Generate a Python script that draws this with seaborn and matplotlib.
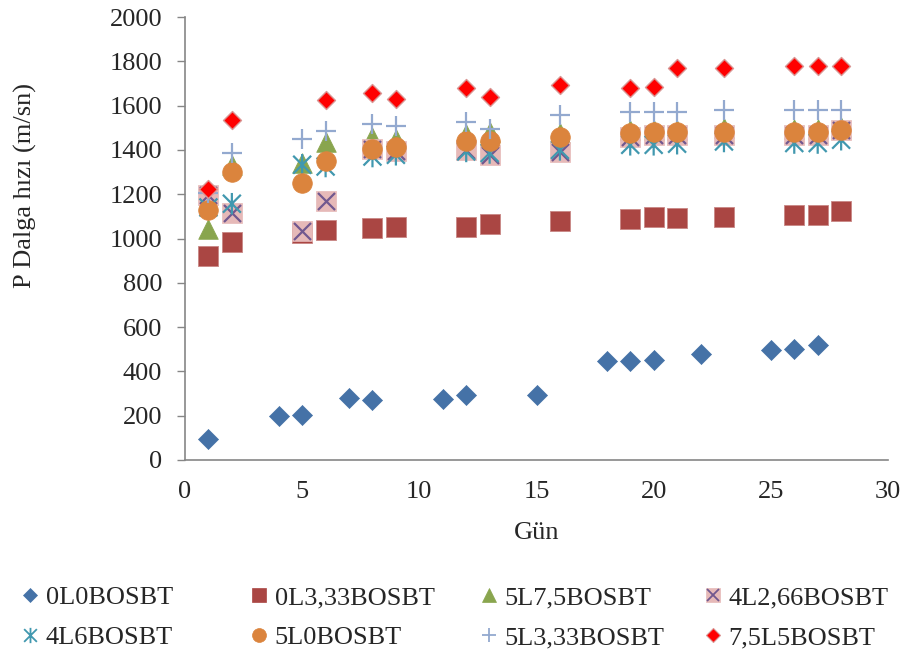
import numpy as np
import matplotlib
matplotlib.use("Agg")
import matplotlib.pyplot as plt
from matplotlib.path import Path
from matplotlib.lines import Line2D
import seaborn as sns

# veri (okunan değerler)
gun_a = [1, 4, 5, 7, 8, 11, 12, 15, 18, 19, 20, 22, 25, 26, 27]
v_0L0 = [95, 200, 205, 278, 270, 275, 292, 292, 447, 447, 452, 480, 498, 503, 518]

gun_b = [1, 2, 5, 6, 8, 9, 12, 13, 16, 19, 20, 21, 23, 26, 27, 28]
v_0L333 = [922, 984, 1025, 1038, 1049, 1054, 1054, 1065, 1081, 1087, 1099, 1092, 1099, 1104, 1107, 1122]
v_5L75 = [1043, 1330, 1340, 1434, 1460, 1450, 1470, 1480, 1475, 1490, 1492, 1492, 1497, 1495, 1495, 1505]
v_4L266 = [1197, 1117, 1035, 1171, 1404, 1393, 1400, 1378, 1390, 1460, 1468, 1468, 1468, 1468, 1468, 1488]
v_4L6 = [1140, 1157, 1333, 1325, 1370, 1378, 1393, 1386, 1400, 1423, 1423, 1428, 1438, 1431, 1431, 1446]
v_5L0 = [1129, 1298, 1250, 1351, 1404, 1415, 1438, 1442, 1460, 1476, 1479, 1479, 1483, 1480, 1480, 1491]
v_5L333 = [1205, 1386, 1449, 1486, 1518, 1509, 1528, 1495, 1559, 1569, 1569, 1569, 1578, 1578, 1578, 1578]

gun_c = [1, 2, 6, 8, 9, 12, 13, 16, 19, 20, 21, 23, 26, 27, 28]
v_75L5 = [1224, 1536, 1626, 1659, 1630, 1679, 1641, 1694, 1679, 1686, 1770, 1770, 1777, 1777, 1777]

etiketler = ["0L0BOSBT", "0L3,33BOSBT", "5L7,5BOSBT", "4L2,66BOSBT",
             "4L6BOSBT", "5L0BOSBT", "5L3,33BOSBT", "7,5L5BOSBT"]
y_ticks = [0, 200, 400, 600, 800, 1000, 1200, 1400, 1600, 1800, 2000]
x_ticks = [0, 5, 10, 15, 20, 25, 30]

# renkler
c_mavi = "#4572A7"
c_kirmizi = "#AA4643"
c_yesil = "#89A54E"
c_pembe = "#E6B9B8"
c_mor = "#71588F"
c_turkuaz = "#4198AF"
c_turuncu = "#DB843D"
c_acikmavi = "#93A9CF"
c_parlak = "#FF0000"

# Excel tarzı yıldız: X + dikey çizgi
yildiz = Path([(-1, -1), (1, 1), (-1, 1), (1, -1), (0, -1.2), (0, 1.2)],
              [Path.MOVETO, Path.LINETO, Path.MOVETO, Path.LINETO, Path.MOVETO, Path.LINETO])

sns.set_style("white")
plt.rcParams["font.family"] = ["Liberation Serif", "DejaVu Serif"]
FS = 19

fig = plt.figure(figsize=(9.09, 6.57), dpi=100)
ax = fig.add_axes([185 / 909, 1 - 460 / 657, 703 / 909, 443 / 657])

sns.scatterplot(x=gun_a, y=v_0L0, marker="D", s=104, color=c_mavi, edgecolor=c_mavi, linewidth=0.5, ax=ax, zorder=3)
sns.scatterplot(x=gun_b, y=v_0L333, marker="s", s=190, color=c_kirmizi, edgecolor="#C98785", linewidth=0.6, ax=ax, zorder=3)
sns.scatterplot(x=gun_b, y=v_5L75, marker="^", s=200, color=c_yesil, edgecolor=c_yesil, linewidth=0.5, ax=ax, zorder=3)
sns.scatterplot(x=gun_b, y=v_4L266, marker="s", s=190, color=c_pembe, edgecolor=c_pembe, linewidth=0.5, ax=ax, zorder=3)
ax.scatter(gun_b, v_4L266, marker="x", s=150, color=c_mor, linewidths=1.6, zorder=3)
sns.scatterplot(x=gun_b, y=v_4L6, marker=yildiz, s=240, facecolor="none", edgecolor=c_turkuaz, linewidth=1.6, ax=ax, zorder=3)
sns.scatterplot(x=gun_b, y=v_5L0, marker="o", s=200, color=c_turuncu, edgecolor=c_turuncu, linewidth=0.5, ax=ax, zorder=3)
sns.scatterplot(x=gun_b, y=v_5L333, marker="+", s=210, color=c_acikmavi, linewidth=1.6, ax=ax, zorder=3)
sns.scatterplot(x=gun_c, y=v_75L5, marker="D", s=84, color=c_parlak, edgecolor="#D99694", linewidth=1.0, ax=ax, zorder=3)

ax.set_xlim(0, 30)
ax.set_ylim(0, 2000)
ax.set_xticks(x_ticks)
ax.set_yticks(y_ticks)
ax.tick_params(axis="x", labelsize=FS, length=0, pad=15)
ax.tick_params(axis="y", labelsize=FS, left=True, length=5.5, width=1, color="#868686", pad=11)
for s in ["top", "right"]:
    ax.spines[s].set_visible(False)
for s in ["left", "bottom"]:
    ax.spines[s].set_color("#868686")
    ax.spines[s].set_linewidth(1.2)

ax.set_xlabel("Gün", fontsize=FS)
ax.set_ylabel("P Dalga hızı (m/sn)", fontsize=FS)
ax.xaxis.set_label_coords(0.5, -0.14)
ax.yaxis.set_label_coords(-0.21, 0.62)

# lejant
def h(marker, fc, ec, ms, lw=0.5):
    return Line2D([], [], linestyle="none", marker=marker, markersize=ms,
                  markerfacecolor=fc, markeredgecolor=ec, markeredgewidth=lw)

handles = [
    h("D", c_mavi, c_mavi, 7),
    h("s", c_kirmizi, c_kirmizi, 9.5),
    h("^", c_yesil, c_yesil, 10),
    (h("s", c_pembe, c_pembe, 10), h("x", c_mor, c_mor, 9, 1.3)),
    h(yildiz, "none", c_turkuaz, 11, 1.3),
    h("o", c_turuncu, c_turuncu, 10),
    h("+", c_acikmavi, c_acikmavi, 10, 1.3),
    h("D", c_parlak, "#D99694", 7, 0.8),
]

sutun_x = [22, 251, 481, 705]
for i, x0 in enumerate(sutun_x):
    leg = fig.legend([handles[i], handles[i + 4]], [etiketler[i], etiketler[i + 4]],
                     loc="center left", bbox_to_anchor=(x0 / 909, 1 - 617.5 / 657),
                     frameon=False, fontsize=FS, handlelength=0.6, handletextpad=0.3,
                     borderpad=0, borderaxespad=0, labelspacing=0.62)

plt.savefig("out.png", dpi=100)
